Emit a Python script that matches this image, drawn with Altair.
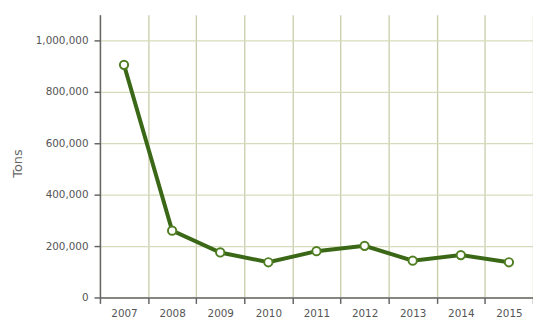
import altair as alt
import pandas as pd

years = ["2007", "2008", "2009", "2010", "2011", "2012", "2013", "2014", "2015"]
tons = [905000, 260000, 175000, 137000, 180000, 201000, 143000, 165000, 137000]

df = pd.DataFrame({"year": years, "tons": tons})

x = alt.X("year:O", scale=alt.Scale(type="band", paddingInner=0, paddingOuter=0),
          axis=alt.Axis(title=None, labelAngle=0, tickBand="extent", grid=True,
                        gridColor="#c9ccaa", gridWidth=1.3,
                        domainColor="#666666", domainWidth=1.5,
                        tickColor="#666666", tickSize=6, tickWidth=1.5,
                        labelFont="DejaVu Sans", labelFontSize=10.5, labelColor="#555555",
                        labelPadding=5))
y = alt.Y("tons:Q", scale=alt.Scale(domain=[0, 1100000], nice=False),
          axis=alt.Axis(title="Tons", values=[0, 200000, 400000, 600000, 800000, 1000000],
                        format=",d", grid=True, gridColor="#d8dbbb", gridWidth=1.3,
                        domainColor="#666666", domainWidth=1.5,
                        tickColor="#666666", tickSize=6, tickWidth=1.5,
                        labelFont="DejaVu Sans", labelFontSize=10.5, labelColor="#555555",
                        labelPadding=6,
                        titleFont="DejaVu Sans", titleFontSize=13, titleColor="#666666",
                        titleFontWeight="normal", titleAngle=-90, titleX=-83, titleY=150,
                        titleAlign="center", titleBaseline="middle"))

line = alt.Chart(df).mark_line(color="#3a6816", strokeWidth=4).encode(x=x, y=y)
pts = alt.Chart(df).mark_point(filled=True, fill="white", stroke="#4f7f22",
                               strokeWidth=2, size=70, opacity=1).encode(x=x, y=y)

chart = alt.layer(line, pts).properties(
    width=438, height=286,
    autosize=alt.AutoSizeParams(type="none"),
    padding={"left": 93, "top": 5, "right": 0, "bottom": 20},
).configure_view(stroke=None)

chart.save("out.html", embed_options={"renderer": "svg", "actions": False})
